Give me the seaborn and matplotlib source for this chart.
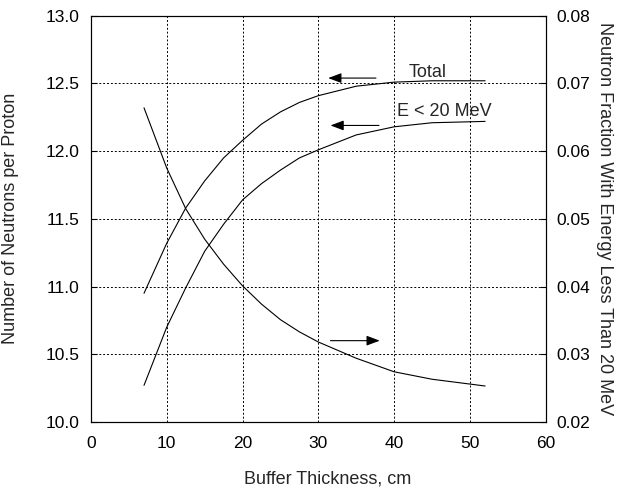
#!/usr/bin/env python3
"""
Neutron yield and low-energy fraction versus buffer thickness.
"""

import pandas as pd
import matplotlib
matplotlib.use("Agg")
import matplotlib.pyplot as plt
import seaborn as sns

# Values
thickness = [7, 10, 12.5, 15, 17.5, 20, 22.5, 25, 27.5, 30, 35, 40, 45, 52]
total_neutrons = [10.95, 11.32, 11.58, 11.78, 11.95, 12.08, 12.20, 12.29,
                  12.36, 12.41, 12.48, 12.51, 12.52, 12.52]
low_energy_neutrons = [10.27, 10.70, 10.99, 11.26, 11.46, 11.64, 11.76, 11.86,
                       11.95, 12.01, 12.12, 12.18, 12.21, 12.22]
low_energy_fraction = [0.0664, 0.0575, 0.0515, 0.0470, 0.0433, 0.0401, 0.0374,
                       0.0351, 0.0333, 0.0318, 0.0294, 0.0274, 0.0263, 0.0253]

left_ticks = [10.0, 10.5, 11.0, 11.5, 12.0, 12.5, 13.0]
right_ticks = [0.02, 0.03, 0.04, 0.05, 0.06, 0.07, 0.08]
x_ticks = [0, 10, 20, 30, 40, 50, 60]

sns.set_style("white")
plt.rcParams["font.family"] = ["Liberation Sans", "DejaVu Sans"]

TICK_SIZE = 12.5
LABEL_SIZE = 13


def main():
    df = pd.DataFrame({
        "thickness": thickness,
        "total": total_neutrons,
        "low": low_energy_neutrons,
        "fraction": low_energy_fraction,
    })

    fig, ax = plt.subplots(figsize=(6.23, 4.94), dpi=100)
    fig.subplots_adjust(left=0.146, right=0.876, top=0.968, bottom=0.146)

    line_kw = dict(color="black", linewidth=0.8, estimator=None, sort=False)
    sns.lineplot(data=df, x="thickness", y="total", ax=ax, **line_kw)
    sns.lineplot(data=df, x="thickness", y="low", ax=ax, **line_kw)

    ax.set_xlim(0, 60)
    ax.set_ylim(10.0, 13.0)
    ax.set_xticks(x_ticks)
    ax.set_yticks(left_ticks)
    ax.set_yticklabels([f"{v:.1f}" for v in left_ticks])
    ax.grid(True, color="black", linestyle=(0, (2, 2)), linewidth=0.7)
    ax.tick_params(direction="in", length=4, width=0.8, colors="black",
                   labelsize=TICK_SIZE, pad=8)
    ax.tick_params(axis="x", pad=10)
    ax.set_xlabel("Buffer Thickness, cm", fontsize=LABEL_SIZE)
    ax.xaxis.set_label_coords(0.52, -0.12)
    ax.set_ylabel("Number of Neutrons per Proton", fontsize=LABEL_SIZE)
    ax.yaxis.set_label_coords(-0.158, 0.5)

    ax2 = ax.twinx()
    sns.lineplot(data=df, x="thickness", y="fraction", ax=ax2, **line_kw)
    ax2.set_ylim(0.02, 0.08)
    ax2.set_yticks(right_ticks)
    ax2.set_yticklabels([f"{v:.2f}" for v in right_ticks])
    ax2.tick_params(direction="in", length=4, width=0.8, colors="black",
                    labelsize=TICK_SIZE, pad=8)
    ax2.set_ylabel("Neutron Fraction With Energy Less Than 20 MeV",
                   fontsize=LABEL_SIZE, rotation=270, va="center")
    ax2.yaxis.set_label_coords(1.13, 0.5)

    for a in (ax, ax2):
        for spine in a.spines.values():
            spine.set_color("black")
            spine.set_linewidth(0.8)

    # Arrows and curve labels
    arrow_kw = dict(arrowstyle="-|>,head_length=0.8,head_width=0.3",
                    color="black", lw=0.8, shrinkA=0, shrinkB=0)
    ax.annotate("", xy=(31.3, 12.54), xytext=(37.6, 12.54), arrowprops=arrow_kw)
    ax.text(44.4, 12.55, "Total", ha="center", va="baseline", fontsize=LABEL_SIZE)
    ax.annotate("", xy=(31.6, 12.19), xytext=(38.0, 12.19), arrowprops=arrow_kw)
    ax.text(46.6, 12.26, "E < 20 MeV", ha="center", va="baseline", fontsize=LABEL_SIZE)
    ax.annotate("", xy=(38.1, 10.60), xytext=(31.6, 10.60), arrowprops=arrow_kw)

    plt.savefig("out.png", dpi=100)
    plt.close()


if __name__ == "__main__":
    main()
